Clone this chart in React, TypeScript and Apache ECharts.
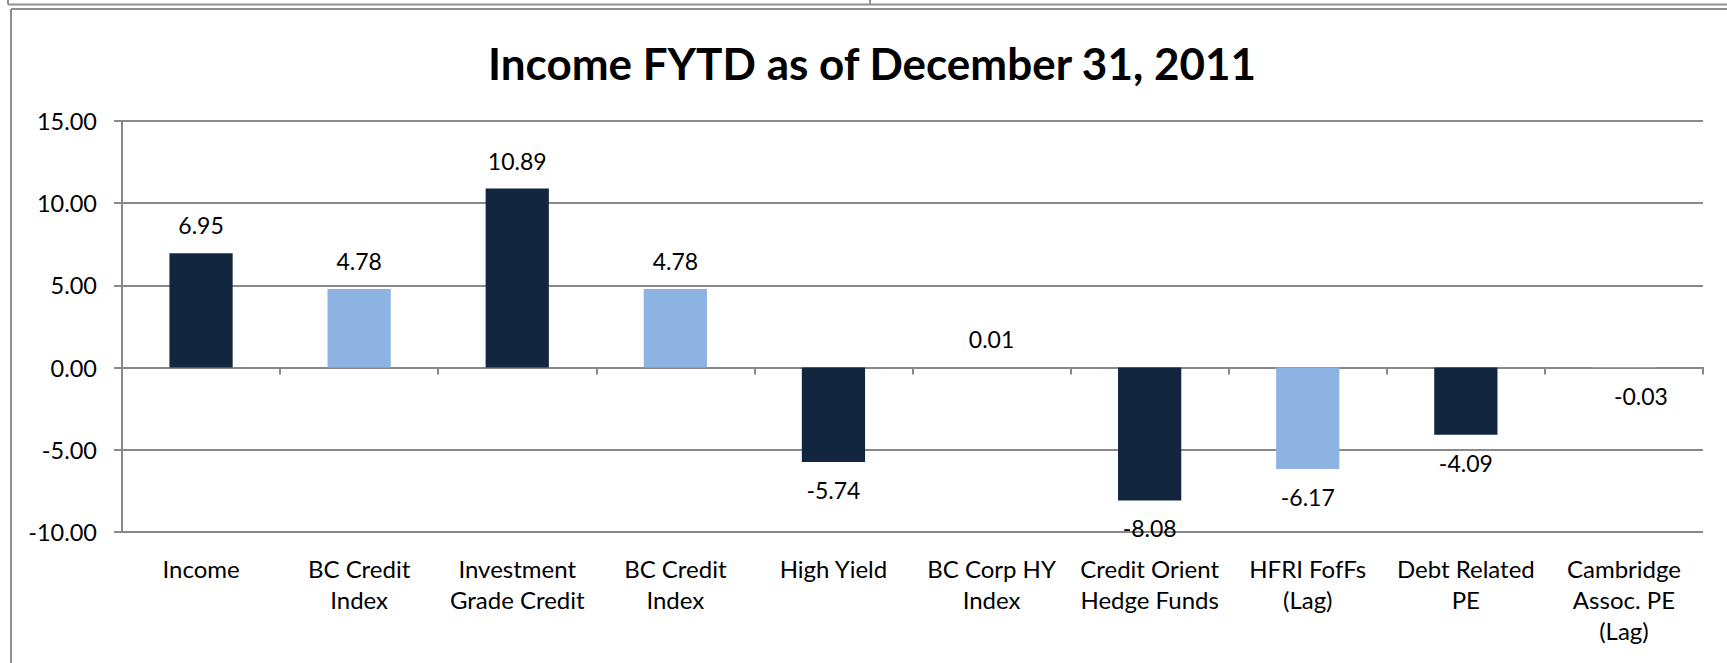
import React, { useEffect, useRef } from "react";
import * as echarts from "echarts";

const titleText = "Income FYTD as of December 31, 2011";

const categories = [
  "Income",
  "BC Credit\nIndex",
  "Investment\nGrade Credit",
  "BC Credit\nIndex",
  "High Yield",
  "BC Corp HY\nIndex",
  "Credit Orient\nHedge Funds",
  "HFRI FofFs\n(Lag)",
  "Debt Related\nPE",
  "Cambridge\nAssoc. PE\n(Lag)",
];

const values = [6.95, 4.78, 10.89, 4.78, -5.74, 0.01, -8.08, -6.17, -4.09, -0.03];

// which bars are portfolio segments vs. benchmarks
const barKinds = [
  "portfolio",
  "benchmark",
  "portfolio",
  "benchmark",
  "portfolio",
  "benchmark",
  "portfolio",
  "benchmark",
  "portfolio",
  "benchmark",
];

const yMin = -10;
const yMax = 15;
const yStep = 5;

const kindColors: Record<string, string> = {
  portfolio: "#13263F",
  benchmark: "#8DB3E2",
};

const FONT = "Lato";
const GRID_COLOR = "#898989";

export default function App() {
  const ref = useRef<HTMLDivElement>(null);

  useEffect(() => {
    if (!ref.current) return;
    const chart = echarts.init(ref.current, undefined, { renderer: "svg" });

    const lastIndex = values.length - 1;
    const data = values.map((v, i) => ({
      value: v,
      itemStyle: { color: kindColors[barKinds[i]] },
      label: {
        position: v >= 0 ? "top" : "bottom",
        // the last label sits slightly right of its bar in the original
        offset: i === lastIndex ? [17, 0] : [0, 0],
      },
    }));

    chart.setOption({
      animation: false,
      backgroundColor: "#ffffff",
      textStyle: { fontFamily: FONT },
      grid: { left: 122, right: 24, top: 121, bottom: 131, containLabel: false },
      graphic: [
        // remnant of the box above
        { type: "line", shape: { x1: 8, y1: 0, x2: 8, y2: 4.5 }, style: { stroke: "#8f8f8f", lineWidth: 2 } },
        { type: "line", shape: { x1: 8, y1: 4.5, x2: 1727, y2: 4.5 }, style: { stroke: "#8f8f8f", lineWidth: 2 } },
        { type: "line", shape: { x1: 870, y1: 0, x2: 870, y2: 4.5 }, style: { stroke: "#8f8f8f", lineWidth: 2 } },
        // chart frame
        { type: "line", shape: { x1: 11, y1: 9, x2: 1727, y2: 9 }, style: { stroke: "#8f8f8f", lineWidth: 2 } },
        { type: "line", shape: { x1: 11, y1: 9, x2: 11, y2: 663 }, style: { stroke: "#8f8f8f", lineWidth: 2 } },
        {
          type: "text",
          x: 872,
          y: 63,
          style: {
            text: titleText,
            font: `bold 44px ${FONT}`,
            fill: "#000000",
            textAlign: "center",
            textVerticalAlign: "middle",
          },
        },
      ],
      xAxis: [
        {
          type: "category",
          data: categories,
          position: "bottom",
          axisLine: { show: true, onZero: true, lineStyle: { color: GRID_COLOR, width: 2 } },
          axisTick: { show: true, length: 7, alignWithLabel: false, lineStyle: { color: GRID_COLOR, width: 2 } },
          axisLabel: { show: false },
          splitLine: { show: false },
        },
        {
          type: "category",
          data: categories,
          position: "bottom",
          axisLine: { show: false, onZero: false },
          axisTick: { show: false },
          axisLabel: {
            show: true,
            interval: 0,
            margin: 21,
            color: "#000000",
            fontFamily: FONT,
            fontSize: 24,
            lineHeight: 31,
            align: "center",
          },
          splitLine: { show: false },
        },
      ],
      yAxis: {
        type: "value",
        min: yMin,
        max: yMax,
        interval: yStep,
        axisLine: { show: true, lineStyle: { color: GRID_COLOR, width: 2 } },
        axisTick: { show: true, length: 8, inside: false, lineStyle: { color: GRID_COLOR, width: 2 } },
        axisLabel: {
          margin: 25,
          color: "#000000",
          fontFamily: FONT,
          fontSize: 23.5,
          formatter: (v: number) => v.toFixed(2),
        },
        splitLine: { show: true, lineStyle: { color: GRID_COLOR, width: 2 } },
      },
      series: [
        {
          type: "bar",
          xAxisIndex: 0,
          data,
          barCategoryGap: "60%",
          label: {
            show: true,
            distance: 16,
            color: "#000000",
            fontFamily: FONT,
            fontSize: 23,
            lineHeight: 24,
            formatter: (p: any) => Number(p.value).toFixed(2),
          },
        },
      ],
    });

    return () => chart.dispose();
  }, []);

  return (
    <div
      ref={ref}
      style={{ position: "fixed", left: 0, top: 0, width: 1727, height: 663, background: "#fff" }}
    />
  );
}
